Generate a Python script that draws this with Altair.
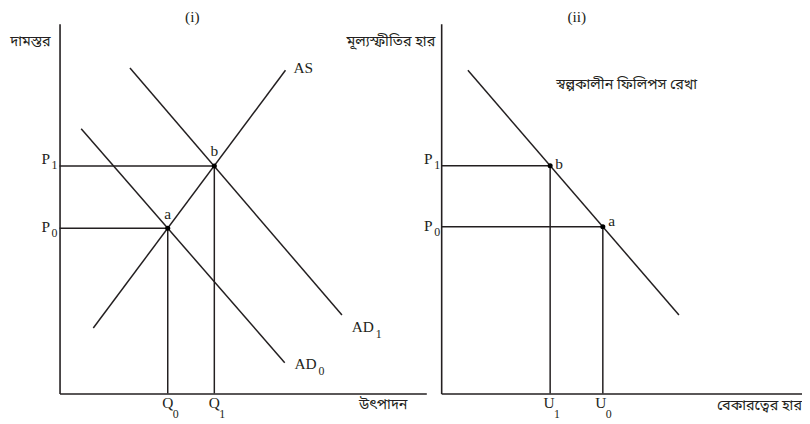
import altair as alt
import pandas as pd

INK = "#231f20"
SERIF = "Liberation Serif"
BENGALI = "Noto Sans Bengali, Lohit Bengali, Noto Sans, sans-serif"

# ---------------- panel (i): AD-AS ----------------
Q_VALS = [29.5, 42.2]              # Q0, Q1
P_VALS = [44.7, 61.5]              # P0, P1
AS_X, AS_Y = [9.2, 61.6], [17.7, 87.4]
AD0_X, AD0_Y = [5.9, 61.4], [71.6, 8.3]
AD1_X, AD1_Y = [19.2, 77.0], [88.0, 21.2]

# ---------------- panel (ii): short-run Phillips curve ----------------
U_VALS = [44.8, 30.2]              # U0, U1
PI_VALS = [45.1, 61.6]             # P0, P1
PC_X, PC_Y = [7.4, 65.9], [87.4, 21.2]

SUBS = ["0", "1"]

LEFT_W, RIGHT_W, H = 370, 364, 373
MAIN_SIZE, SUB_SIZE, BN_SIZE = 15.5, 12, 14.5


def enc():
    ax = alt.Axis(domain=True, domainColor=INK, domainWidth=1.6, ticks=False,
                  labels=False, grid=False, title=None)
    sx = alt.Scale(domain=[0, 100], nice=False, zero=False)
    sy = alt.Scale(domain=[0, 100], nice=False, zero=False)
    return (alt.X("x:Q", scale=sx, axis=ax), alt.Y("y:Q", scale=sy, axis=ax))


def segments(pairs):
    return pd.DataFrame([{"x": a, "y": b, "x2": c, "y2": d} for a, b, c, d in pairs])


def rule_layer(df, X, Y, width=1.5):
    return alt.Chart(df).mark_rule(color=INK, strokeWidth=width).encode(
        x=X, y=Y, x2="x2:Q", y2="y2:Q")


def text_layers(rows, X, Y, size, font, align="center", baseline="alphabetic"):
    """rows: (text, x, y, dx, dy) -- x, y in data units, dx/dy pixel nudges."""
    out = []
    for text, x, y, dx, dy in rows:
        df = pd.DataFrame([{"x": x, "y": y, "text": text}])
        out.append(alt.Chart(df).mark_text(
            font=font, fontSize=size, align=align, baseline=baseline,
            color=INK, dx=dx, dy=dy).encode(x=X, y=Y, text="text:N"))
    return out


def point_layer(df, X, Y):
    return alt.Chart(df).mark_circle(color="black", opacity=1, size=26).encode(x=X, y=Y)


# ---------- left panel ----------
X, Y = enc()
curves_l = segments([
    (AS_X[0], AS_Y[0], AS_X[1], AS_Y[1]),
    (AD0_X[0], AD0_Y[0], AD0_X[1], AD0_Y[1]),
    (AD1_X[0], AD1_Y[0], AD1_X[1], AD1_Y[1]),
])
guides_l = segments([(0, p, q, p) for q, p in zip(Q_VALS, P_VALS)] +
                    [(q, p, q, 0) for q, p in zip(Q_VALS, P_VALS)])
pts_l = pd.DataFrame({"x": Q_VALS, "y": P_VALS})

main_l = [
    ("P", 0, P_VALS[1], -14, -2),
    ("P", 0, P_VALS[0], -14, 4),
    ("Q", Q_VALS[0], 0, 0, 15),
    ("Q", Q_VALS[1], 0, 0, 15),
    ("AS", AS_X[1], AS_Y[1], 18, 3),
    ("AD", AD1_X[1], AD1_Y[1], 21, 17),
    ("AD", AD0_X[1], AD0_Y[1], 21, 6),
    ("b", Q_VALS[1], P_VALS[1], 0, -10),
    ("a", Q_VALS[0], P_VALS[0], 0, -9),
]
title_l = [("(i)", 36.2, 100, 0, -14)]
sub_l = [
    (SUBS[1], 0, P_VALS[1], -5, 3),
    (SUBS[0], 0, P_VALS[0], -5, 9),
    (SUBS[0], Q_VALS[0], 0, 8, 25),
    (SUBS[1], Q_VALS[1], 0, 8, 25),
    (SUBS[1], AD1_X[1], AD1_Y[1], 37, 23),
    (SUBS[0], AD0_X[1], AD0_Y[1], 37, 12),
]
bn_l = [
    ("দামস্তর", 0, 100, -9, 23),
    ("উৎপাদন", 100, 0, -19, 16),
]

left = alt.layer(
    rule_layer(curves_l, X, Y),
    rule_layer(guides_l, X, Y),
    point_layer(pts_l, X, Y),
    *text_layers(main_l, X, Y, MAIN_SIZE, SERIF),
    *text_layers(title_l, X, Y, MAIN_SIZE, SERIF, baseline="top"),
    *text_layers(sub_l, X, Y, SUB_SIZE, SERIF),
    *text_layers(bn_l, X, Y, BN_SIZE, BENGALI, align="right"),
).properties(width=LEFT_W, height=H)

# ---------- right panel ----------
X, Y = enc()
curves_r = segments([(PC_X[0], PC_Y[0], PC_X[1], PC_Y[1])])
guides_r = segments([(0, p, u, p) for u, p in zip(U_VALS, PI_VALS)] +
                    [(u, p, u, 0) for u, p in zip(U_VALS, PI_VALS)])
pts_r = pd.DataFrame({"x": U_VALS, "y": PI_VALS})

main_r = [
    ("P", 0, PI_VALS[1], -13, -2),
    ("P", 0, PI_VALS[0], -13, 4),
    ("U", U_VALS[1], 0, -1, 15),
    ("U", U_VALS[0], 0, -2, 15),
    ("b", U_VALS[1], PI_VALS[1], 9, 3),
    ("a", U_VALS[0], PI_VALS[0], 9, -1),
]
title_r = [("(ii)", 37.6, 100, 0, -14)]
sub_r = [
    (SUBS[1], 0, PI_VALS[1], -4, 3),
    (SUBS[0], 0, PI_VALS[0], -4, 9),
    (SUBS[1], U_VALS[1], 0, 7, 25),
    (SUBS[0], U_VALS[0], 0, 6, 25),
]
bn_r_right = [
    ("মূল্যস্ফীতির হার", 0, 100, -6, 23),
    ("বেকারত্বের হার", 100, 0, 0, 17),
]
bn_r_center = [
    ("স্বল্পকালীন ফিলিপস রেখা", 51.4, 82.3, 0, 0),
]

right = alt.layer(
    rule_layer(curves_r, X, Y),
    rule_layer(guides_r, X, Y),
    point_layer(pts_r, X, Y),
    *text_layers(main_r, X, Y, MAIN_SIZE, SERIF),
    *text_layers(title_r, X, Y, MAIN_SIZE, SERIF, baseline="top"),
    *text_layers(sub_r, X, Y, SUB_SIZE, SERIF),
    *text_layers(bn_r_right, X, Y, BN_SIZE, BENGALI, align="right"),
    *text_layers(bn_r_center, X, Y, BN_SIZE, BENGALI),
).properties(width=RIGHT_W, height=H)

chart = alt.hconcat(left, right, spacing=15, bounds="flush").properties(
    padding={"left": 2, "top": 0, "right": 0, "bottom": 0}
).configure_view(stroke=None)

chart.save("out.html", embed_options={"renderer": "svg", "actions": False})
